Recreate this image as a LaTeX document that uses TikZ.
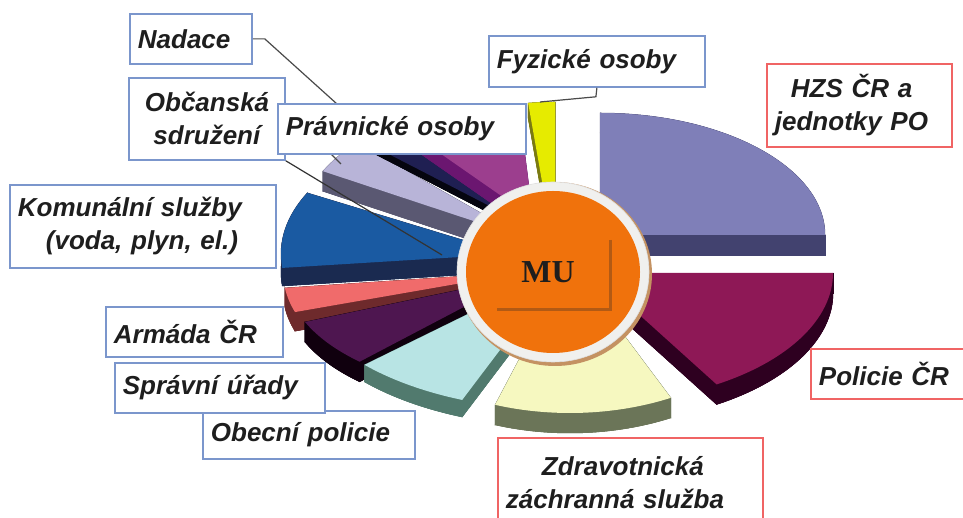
\documentclass[tikz,border=0pt]{standalone}
\usepackage{fontspec}
\usepackage{xcolor}
\usepackage{tikz}
\usetikzlibrary{positioning,calc,shapes.geometric}
\newfontfamily\labfont{Liberation Sans}
\newfontfamily\mufont{Liberation Serif}

\definecolor{boxblue}{HTML}{7B96CC}
\definecolor{boxred}{HTML}{F06464}
\definecolor{txt}{HTML}{1E1E1E}
\definecolor{leader}{HTML}{4A4A4A}
\definecolor{fyztop}{HTML}{E6EB00}
\definecolor{fyzside}{HTML}{7A7A12}
\definecolor{hzstop}{HTML}{7F7FB8}
\definecolor{hzsside}{HTML}{42426F}
\definecolor{obctop}{HTML}{B8B4D8}
\definecolor{obcside}{HTML}{5A5872}
\definecolor{nadtop}{HTML}{1F1F52}
\definecolor{nadside}{HTML}{05050F}
\definecolor{pravtop}{HTML}{9C3E8E}
\definecolor{pravside}{HTML}{6B1670}
\definecolor{komtop}{HTML}{1A5AA2}
\definecolor{komside}{HTML}{1A2A50}
\definecolor{armtop}{HTML}{F06B6B}
\definecolor{armside}{HTML}{6E2A2C}
\definecolor{sprtop}{HTML}{4E1650}
\definecolor{sprside}{HTML}{10000E}
\definecolor{obetop}{HTML}{B8E4E4}
\definecolor{obeside}{HTML}{517A6E}
\definecolor{zdrtop}{HTML}{F6F8C0}
\definecolor{zdrside}{HTML}{6B7558}
\definecolor{poltop}{HTML}{8E1856}
\definecolor{polside}{HTML}{2E0020}
\definecolor{muorange}{HTML}{F0720C}
\definecolor{mushade}{HTML}{B25A14}
\definecolor{ringgray}{HTML}{F0F0EE}
\definecolor{ringshade}{HTML}{C49262}

% apex, start, end, x radius, y radius, depth, top colour, side colour
\newcommand{\pieslice}[8]{%
	\coordinate (ap) at #1;
	\coordinate (r1) at ($(ap)+(#2:#4 and #5)$);
	\coordinate (r2) at ($(ap)+(#3:#4 and #5)$);
	\filldraw[#8,line width=0.5] ($(ap)+(0,-#6)$) -- ($(r1)+(0,-#6)$) arc[start angle=#2,end angle=#3,x radius=#4,y radius=#5] -- cycle;
	\filldraw[#8,line width=0.5] (ap) -- (r1) -- ($(r1)+(0,-#6)$) -- ($(ap)+(0,-#6)$) -- cycle;
	\filldraw[#8,line width=0.5] (ap) -- (r2) -- ($(r2)+(0,-#6)$) -- ($(ap)+(0,-#6)$) -- cycle;
	\filldraw[#8,line width=0.5] (r1) arc[start angle=#2,end angle=#3,x radius=#4,y radius=#5] -- ($(r2)+(0,-#6)$) arc[start angle=#3,end angle=#2,x radius=#4,y radius=#5] -- cycle;
	\fill[#7] (ap) -- (r1) arc[start angle=#2,end angle=#3,x radius=#4,y radius=#5] -- cycle;
}

\begin{document}
\begin{tikzpicture}[x=1pt,y=1pt,
	lbl/.style={draw=boxblue,line width=1.8pt,fill=white,text=txt,anchor=north west,inner xsep=8pt,inner ysep=2pt,
		font={\labfont\bfseries\itshape\fontsize{26}{33}\selectfont}},
	lblred/.style={lbl,draw=boxred},
	leadline/.style={draw=leader,line width=1.2pt}]
	\useasboundingbox (0,0) rectangle (963,518);
	
	% slices, back to front
	\foreach \ax/\ay/\s/\e/\a/\b/\d/\tc/\sc in {
		555/263/90/96.7/230/153/15/fyztop/fyzside,
		600/283/0/90/225/122/20/hzstop/hzsside,
		525/280/137/151.5/230/140/20/obctop/obcside,
		540/286/128/137.8/220/125/7/nadtop/nadside,
		533/300/94/128.3/200/110/14/pravtop/pravside,
		509/264/152.2/186.1/228/131/18/komtop/komside,
		525/246/187.1/198.1/242/129/19/armtop/armside,
		521/241/202.6/226.4/234/117/20/sprtop/sprside,
		562/250/223/248.3/270/142/17/obetop/obeside,
		570/255/251/296/230/150/20/zdrtop/zdrside,
		593/245/301/360/240/130/20/poltop/polside}{
		\pieslice{(\ax,\ay)}{\s}{\e}{\a}{\b}{\d}{\tc}{\sc}
	}
	
	% MU
	\node[ellipse,fill=ringshade,minimum width=194,minimum height=184,inner sep=0] (rimshade) at (555,244) {};
	\node[ellipse,fill=ringgray,draw=black!12,line width=0.6,minimum width=192,minimum height=180,inner sep=0] (ring) at (553,246) {};
	\node[ellipse,fill=muorange,minimum width=174,minimum height=162,inner sep=0] (mu) at (553,246) {};
	\draw[mushade,line width=3] ([shift={(57,32)}]mu.center) -- ([shift={(57,-38)}]mu.center) -- ([shift={(-56,-38)}]mu.center);
	\node[font={\mufont\bfseries\fontsize{32}{32}\selectfont},text=txt] (mutext) at ([shift={(-5,0)}]mu.center) {MU};
	
	% labels
	\foreach \nm/\x/\y/\w/\tw/\h/\al/\txt in {
		nadace/129/505/122/106/50/left/Nadace,
		obcanska/128/441/156/124/82/center/{Občanská\\sdružení},
		komunalni/9/334/266/250/83/left/{Komunální služby\\\hspace*{28pt}(voda, plyn, el.)},
		fyzicke/488/483/216/200/51/left/{Fyzické osoby},
		armada/105/212/177/161/50/left/{Armáda ČR},
		obecni/202/108/212/196/48/left/{Obecní policie},
		spravni/114/156/210/194/50/left/{Správní úřady}}{
		\node[lbl,minimum width=\w,minimum height=\h,text width=\tw,align=\al] (\nm) at (\x,\y) {\txt};
	}
	\foreach \nm/\x/\y/\w/\tw/\h/\al/\txt in {
		hzs/766/455/185/169/83/left/{\hspace*{16pt}HZS ČR a\\jednotky PO},
		policie/810/170/165/149/50/left/{Policie ČR},
		zdrav/497/81/265/249/90/left/{\hspace*{36pt}Zdravotnická\\záchranná služba}}{
		\node[lblred,minimum width=\w,minimum height=\h,text width=\tw,align=\al] (\nm) at (\x,\y) {\txt};
	}
	
	% leaders
	\coordinate (nadend) at (341,354);
	\coordinate (obcend) at (442,263);
	\coordinate (fyzend) at (540,416);
	\draw[leadline] (nadace.east) -- ++(12,0) -- (337,414) -- (329,366) -- (nadend);
	\draw[leadline,draw=black!80] (obcanska.south east) -- (obcend);
	\draw[leadline] (fyzicke.south) -- ++(-1,-9) -- (fyzend);
	
	\node[lbl,minimum width=248,minimum height=50,text width=232,align=left] (pravnicke) at (277,415) {Právnické osoby};
\end{tikzpicture}
\end{document}
